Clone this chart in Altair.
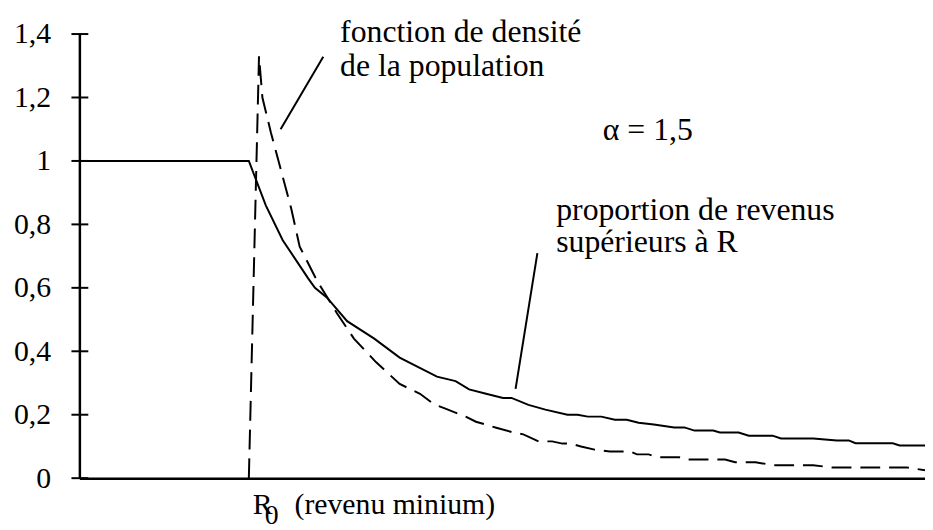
import altair as alt
import pandas as pd

# Proportion of incomes above R (solid)
solid_R = [0, 1.0, 1.05, 1.1, 1.2, 1.3, 1.35, 1.39, 1.46, 1.58,
           1.74, 1.89, 2.0, 2.11, 2.22, 2.30, 2.40, 2.50, 2.55, 2.65,
           2.75, 2.88, 2.94, 3.0, 3.08, 3.16, 3.23, 3.30, 3.39, 3.51,
           3.57, 3.63, 3.74, 3.78, 3.89, 3.95, 4.09, 4.14, 4.33, 4.47,
           4.54, 4.58, 4.80, 4.84, 4.99]
solid_v = [1, 1, 0.93, 0.86, 0.75, 0.67, 0.63, 0.60, 0.57, 0.495,
           0.44, 0.38, 0.35, 0.32, 0.306, 0.28, 0.266, 0.253, 0.253, 0.231,
           0.216, 0.20, 0.20, 0.194, 0.194, 0.184, 0.184, 0.175, 0.169, 0.16,
           0.16, 0.15, 0.15, 0.144, 0.144, 0.134, 0.134, 0.125, 0.125, 0.119,
           0.119, 0.11, 0.11, 0.103, 0.103]

# Population density function (dashed)
dash_R = [1.0, 1.06, 1.08, 1.13, 1.19, 1.25, 1.30, 1.40, 1.52,
          1.62, 1.75, 1.89, 2.01, 2.09, 2.16, 2.28, 2.34, 2.46, 2.56,
          2.62, 2.71, 2.79, 2.85, 2.90, 2.96, 3.04, 3.13, 3.25, 3.29,
          3.36, 3.41, 3.54, 3.58, 3.81, 3.87, 3.99, 4.05, 4.09, 4.33,
          4.39, 4.44, 4.88, 4.99]
dash_v = [0, 1.33, 1.20, 1.09, 0.97, 0.85, 0.73, 0.625, 0.52,
          0.44, 0.366, 0.297, 0.266, 0.234, 0.219, 0.194, 0.178, 0.159, 0.144,
          0.138, 0.116, 0.116, 0.109, 0.109, 0.10, 0.09, 0.084, 0.084, 0.075,
          0.075, 0.066, 0.066, 0.059, 0.059, 0.05, 0.05, 0.045, 0.041, 0.041,
          0.037, 0.034, 0.034, 0.025]

y_ticks = [0, 0.2, 0.4, 0.6, 0.8, 1, 1.2, 1.4]

FONT = "Liberation Serif"

xs = alt.Scale(domain=[0, 4.99], nice=False, zero=True)
ys = alt.Scale(domain=[0, 1.4], nice=False)

solid_df = pd.DataFrame({"R": solid_R, "v": solid_v})
dash_df = pd.DataFrame({"R": dash_R, "v": dash_v})
tick_df = pd.DataFrame({"t": y_ticks})
one = pd.DataFrame({"a": [0]})

axes = alt.Chart(solid_df).mark_line(stroke="black", strokeWidth=2).encode(
    x=alt.X("R:Q", scale=xs,
            axis=alt.Axis(labels=False, ticks=False, grid=False, domain=True,
                          domainColor="black", domainWidth=2.5, title=None)),
    y=alt.Y("v:Q", scale=ys,
            axis=alt.Axis(values=y_ticks, ticks=False, tickSize=0, grid=False,
                          domain=True, domainColor="black", domainWidth=2.5,
                          labelFont=FONT, labelFontSize=30, labelColor="black",
                          labelPadding=29,
                          labelExpr="replace(format(datum.value, '.1~f'), '.', ',')",
                          title=None)),
)

dashed = alt.Chart(dash_df).mark_line(stroke="black", strokeWidth=2,
                                      strokeDash=[20, 9]).encode(
    x=alt.X("R:Q", scale=xs),
    y=alt.Y("v:Q", scale=ys),
)

ticks = alt.Chart(tick_df).mark_rule(stroke="black", strokeWidth=2).encode(
    y=alt.Y("t:Q", scale=ys),
    x=alt.value(-8),
    x2=alt.value(9),
)

def txt(s, x, y, size=32):
    return alt.Chart(one).mark_text(
        text=s, font=FONT, fontSize=size, color="black",
        align="left", baseline="alphabetic"
    ).encode(x=alt.value(x), y=alt.value(y))

def leader(x1, y1, x2, y2):
    return alt.Chart(one).mark_rule(stroke="black", strokeWidth=2).encode(
        x=alt.value(x1), y=alt.value(y1), x2=alt.value(x2), y2=alt.value(y2))

texts = [
    txt("fonction de densité", 263, 8),
    txt("de la population", 263, 42),
    txt("α = 1,5", 528, 107),
    txt("proportion de revenus", 481, 188),
    txt("supérieurs à R", 481, 220),
    txt("R", 175, 484, 30),
    txt("0", 187, 494, 28),
    txt("(revenu minium)", 217, 484, 30),
]

lines = [
    leader(203, 96, 246, 23),
    leader(440, 358, 462, 221),
]

chart = alt.layer(axes, dashed, ticks, *lines, *texts).properties(
    width=853, height=448,
    autosize=alt.AutoSizeParams(type="none"),
    padding={"left": 72, "top": 24, "right": 0, "bottom": 50},
    background="white",
).configure_view(stroke=None)

chart.save("out.html", embed_options={"renderer": "svg", "actions": False})
